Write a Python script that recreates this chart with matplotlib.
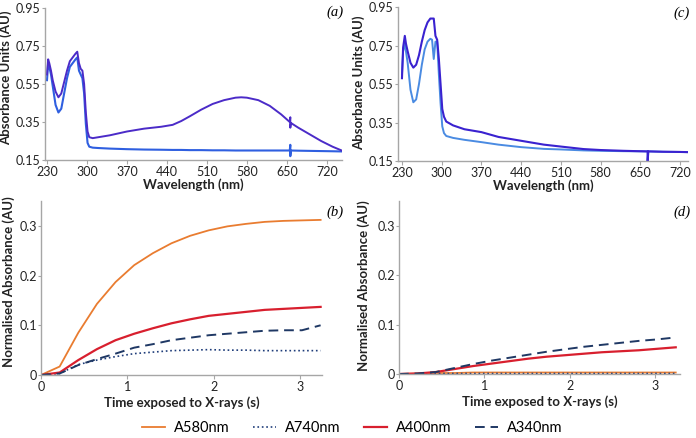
import matplotlib.pyplot as plt

plt.rcParams["font.family"] = ["Lato", "DejaVu Sans"]
LABEL_FONT = ["Liberation Sans Narrow", "Lato", "DejaVu Sans"]

# --- UV-vis spectra (panels a, c) ---
wl_a = [230, 232, 234, 237, 240, 245, 250, 255, 260, 265, 270, 275, 280, 283,
        286, 289, 292, 295, 298, 301, 304, 310, 320, 340, 370, 400, 430, 450,
        465, 480, 500, 520, 540, 560, 570, 580, 600, 620, 640, 655, 656, 656,
        657, 670, 690, 710, 730, 746]
abs_a_upper = [0.60, 0.68, 0.66, 0.62, 0.57, 0.51, 0.48, 0.50, 0.56, 0.62, 0.67,
               0.69, 0.71, 0.72, 0.66, 0.63, 0.62, 0.55, 0.40, 0.30, 0.27, 0.265,
               0.27, 0.28, 0.30, 0.315, 0.325, 0.335, 0.355, 0.38, 0.415, 0.445,
               0.465, 0.478, 0.48, 0.478, 0.465, 0.435, 0.39, 0.35, 0.375, 0.32,
               0.345, 0.32, 0.285, 0.25, 0.22, 0.20]
abs_a_lower = [0.57, 0.66, 0.64, 0.60, 0.54, 0.44, 0.40, 0.42, 0.50, 0.58, 0.64,
               0.66, 0.68, 0.69, 0.62, 0.60, 0.58, 0.50, 0.34, 0.24, 0.22, 0.215,
               0.213, 0.21, 0.207, 0.205, 0.204, 0.203, 0.203, 0.202, 0.202,
               0.201, 0.201, 0.200, 0.200, 0.200, 0.200, 0.200, 0.200, 0.200,
               0.23, 0.17, 0.200, 0.199, 0.198, 0.197, 0.196, 0.195]

wl_c = [230, 232, 235, 237, 240, 245, 250, 255, 260, 265, 270, 275, 280, 283,
        286, 289, 292, 295, 298, 301, 304, 308, 320, 340, 370, 400, 440, 480,
        510, 550, 580, 620, 660, 663, 663, 664, 690, 720, 735]
abs_c_upper = [0.58, 0.74, 0.80, 0.76, 0.72, 0.66, 0.635, 0.65, 0.70, 0.77, 0.83,
               0.87, 0.89, 0.89, 0.89, 0.80, 0.78, 0.68, 0.55, 0.42, 0.38, 0.355,
               0.335, 0.315, 0.30, 0.275, 0.255, 0.235, 0.225, 0.212, 0.207,
               0.203, 0.200, 0.200, 0.15, 0.200, 0.198, 0.197, 0.196]
abs_c_lower = [0.60, 0.72, 0.76, 0.72, 0.66, 0.52, 0.455, 0.47, 0.55, 0.65, 0.73,
               0.77, 0.785, 0.78, 0.68, 0.77, 0.77, 0.60, 0.45, 0.33, 0.295, 0.28,
               0.27, 0.26, 0.248, 0.235, 0.222, 0.213, 0.21, 0.205, 0.203, 0.201,
               0.200, 0.200, 0.15, 0.200, 0.198, 0.197, 0.196]

# --- kinetics (panels b, d) ---
time_s = [0, 0.216, 0.432, 0.648, 0.864, 1.08, 1.296, 1.512, 1.728, 1.944,
          2.16, 2.376, 2.592, 2.808, 3.024, 3.24]
b_a580 = [0, 0.017, 0.085, 0.143, 0.187, 0.221, 0.245, 0.265, 0.280, 0.291,
          0.299, 0.304, 0.308, 0.310, 0.311, 0.312]
b_a740 = [0, 0.003, 0.021, 0.030, 0.037, 0.043, 0.046, 0.049, 0.050, 0.051,
          0.050, 0.050, 0.049, 0.049, 0.049, 0.049]
b_a400 = [0, 0.005, 0.030, 0.052, 0.070, 0.083, 0.094, 0.104, 0.112, 0.119,
          0.123, 0.127, 0.131, 0.133, 0.135, 0.137]
b_a340 = [0, 0.003, 0.020, 0.032, 0.043, 0.055, 0.062, 0.070, 0.075, 0.080,
          0.083, 0.086, 0.089, 0.090, 0.090, 0.100]
d_a580 = [0, 0.001, 0.002, 0.002, 0.003, 0.003, 0.003, 0.003, 0.003, 0.003,
          0.003, 0.003, 0.003, 0.003, 0.003, 0.003]
d_a740 = [0, 0.000, 0.001, 0.001, 0.001, 0.001, 0.001, 0.001, 0.001, 0.001,
          0.001, 0.001, 0.001, 0.001, 0.001, 0.001]
d_a400 = [0, 0.001, 0.004, 0.010, 0.016, 0.021, 0.026, 0.031, 0.035, 0.038,
          0.041, 0.044, 0.046, 0.048, 0.051, 0.054]
d_a340 = [0, 0.001, 0.004, 0.012, 0.020, 0.027, 0.033, 0.039, 0.045, 0.050,
          0.055, 0.059, 0.063, 0.067, 0.070, 0.074]

wl_ticks = [230, 300, 370, 440, 510, 580, 650, 720]
abs_ticks = [0.15, 0.35, 0.55, 0.75, 0.95]
time_ticks = [0, 1, 2, 3]
norm_ticks = [0, 0.1, 0.2, 0.3]

W, H = 696, 438
fig = plt.figure(figsize=(W / 100, H / 100), dpi=100)


def px_axes(left, top, right, bottom):
    return fig.add_axes([left / W, 1 - bottom / H, (right - left) / W, (bottom - top) / H])


def style(ax):
    for s in ["top", "right"]:
        ax.spines[s].set_visible(False)
    for s in ["left", "bottom"]:
        ax.spines[s].set_color("#a6a6a6")
        ax.spines[s].set_linewidth(1.0)
    ax.tick_params(colors="#a6a6a6", labelcolor="#222222", labelsize=9,
                   length=3, width=0.8, pad=1.5)
    ax.tick_params(axis="y", length=2, pad=1)


def label(ax, xtext, ytext, xpad, ycoords):
    kw = dict(fontsize=9.5, fontweight="bold", family=LABEL_FONT, color="#222222")
    ax.set_xlabel(xtext, labelpad=xpad, **kw)
    ax.set_ylabel(ytext, **kw)
    ax.yaxis.set_label_coords(*ycoords)


ax_a = px_axes(45, 8, 342, 160)
ax_c = px_axes(398, 7, 688, 161)
ax_b = px_axes(41, 201, 322, 375)
ax_d = px_axes(399, 201, 680, 374)

ax_a.plot(wl_a, abs_a_lower, color="#2f5fe0", lw=1.5)
ax_a.plot(wl_a, abs_a_upper, color="#4b2bc8", lw=1.4)
ax_c.plot(wl_c, abs_c_lower, color="#4a8be2", lw=1.4)
ax_c.plot(wl_c, abs_c_upper, color="#3a22d0", lw=1.5)

for ax, xl, yc in [(ax_a, (226.5, 746.5), (-0.111, 0.54)),
                   (ax_c, (223, 734), (-0.112, 0.51))]:
    style(ax)
    ax.set_xlim(*xl)
    ax.set_ylim(0.15, 0.95)
    ax.set_xticks(wl_ticks)
    ax.set_yticks(abs_ticks)
    ax.set_yticklabels([f"{v:.2f}" for v in abs_ticks])
    label(ax, "Wavelength (nm)", "Absorbance Units (AU)", 0, yc)

series = [("A580nm", "#e97c30", "-", 1.3),
          ("A740nm", "#1f3d7a", ":", 1.2),
          ("A400nm", "#d81f2e", "-", 1.6),
          ("A340nm", "#1f3864", (0, (5, 3)), 1.4)]
for ax, ys, yc in [(ax_b, [b_a580, b_a740, b_a400, b_a340], (-0.0925, 0.535)),
                   (ax_d, [d_a580, d_a740, d_a400, d_a340], (-0.103, 0.51))]:
    for (name, col, ls, lw), y in zip(series, ys):
        ax.plot(time_s, y, color=col, ls=ls, lw=lw, label=name)
    style(ax)
    ax.set_ylim(0, 0.35)
    ax.set_xticks(time_ticks)
    ax.set_yticks(norm_ticks)
    ax.set_yticklabels(["0", "0.1", "0.2", "0.3"])
    label(ax, "Time exposed to X-rays (s)", "Normalised Absorbance (AU)", 2, yc)
ax_b.set_xlim(0, 3.256)
ax_d.set_xlim(0, 3.29)

for ax, lab, x, y in [(ax_a, "(a)", 335, 12), (ax_c, "(c)", 682, 13),
                      (ax_b, "(b)", 335, 212), (ax_d, "(d)", 682, 212)]:
    fig.text(x / W, 1 - y / H, lab, family="Liberation Serif", style="italic",
             fontsize=10.5, ha="center", va="center")

handles, labels = ax_b.get_legend_handles_labels()
fig.legend(handles, labels, loc="center", bbox_to_anchor=(352 / W, 1 - 428 / H),
           ncol=4, frameon=False, fontsize=10.5, handlelength=1.6,
           columnspacing=1.6, handletextpad=0.6)

fig.savefig("out.png", dpi=100)
